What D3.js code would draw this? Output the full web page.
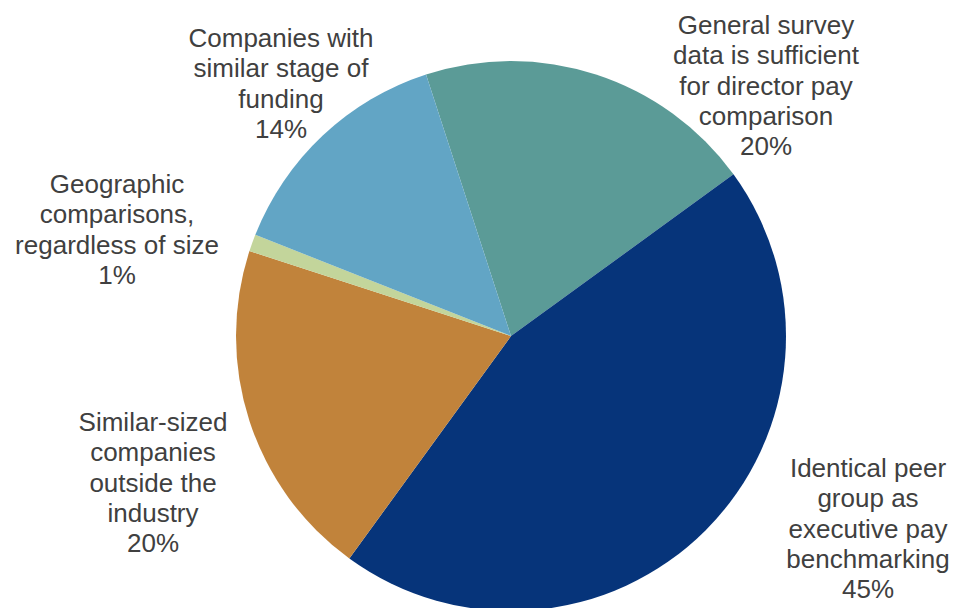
<!DOCTYPE html>
<html>
<head>
<meta charset="utf-8">
<script src="https://cdn.jsdelivr.net/npm/d3@7"></script>
<style>
  html, body { margin: 0; padding: 0; background: #ffffff; }
  svg { display: block; }
  text { font-family: "Liberation Sans", Arial, sans-serif; fill: #404040; }
</style>
</head>
<body>
<svg id="chart" width="954" height="608"></svg>
<script>
// Survey answers, in clockwise order starting at the top-left of the pie
const categories = [
  "General survey data is sufficient for director pay comparison",
  "Identical peer group as executive pay benchmarking",
  "Similar-sized companies outside the industry",
  "Geographic comparisons, regardless of size",
  "Companies with similar stage of funding"
];
const shares = [20, 45, 20, 1, 14];
const labelLines = [
  ["General survey", "data is sufficient", "for director pay", "comparison"],
  ["Identical peer", "group as", "executive pay", "benchmarking"],
  ["Similar-sized", "companies", "outside the", "industry"],
  ["Geographic", "comparisons,", "regardless of size"],
  ["Companies with", "similar stage of", "funding"]
];
const colors = ["#5B9B97", "#06347A", "#C1833B", "#C3D59B", "#62A5C5"];

// Label anchors: centre x and the y of the first line
const labelPos = [
  { x: 766, y: 25 },
  { x: 868, y: 468 },
  { x: 153, y: 422 },
  { x: 117, y: 184 },
  { x: 281, y: 38 }
];

const width = 954, height = 608;
const cx = 511, cy = 336, radius = 275;
const fontSize = 26, lineGap = 30.2;

const svg = d3.select("#chart");

const pie = d3.pie()
  .sort(null)
  .value(d => d)
  .startAngle(-0.1 * Math.PI)
  .endAngle(1.9 * Math.PI);

const arc = d3.arc().innerRadius(0).outerRadius(radius);

const g = svg.append("g").attr("transform", `translate(${cx},${cy})`);

g.selectAll("path.slice")
  .data(pie(shares))
  .join("path")
  .attr("class", "slice")
  .attr("d", arc)
  .attr("fill", (d, i) => colors[i]);

// Category name followed by its percentage, centred line by line
const labels = svg.append("g").attr("class", "labels");
shares.forEach((v, i) => {
  const lines = labelLines[i].concat([v + "%"]);
  const t = labels.append("text")
    .attr("text-anchor", "middle")
    .attr("font-size", fontSize)
    .attr("x", labelPos[i].x)
    .attr("y", labelPos[i].y);
  t.append("title").text(categories[i]);
  lines.forEach((ln, k) => {
    t.append("tspan")
      .attr("x", labelPos[i].x)
      .attr("y", labelPos[i].y + k * lineGap)
      .attr("dy", "0.35em")
      .text(ln);
  });
});
</script>
</body>
</html>
